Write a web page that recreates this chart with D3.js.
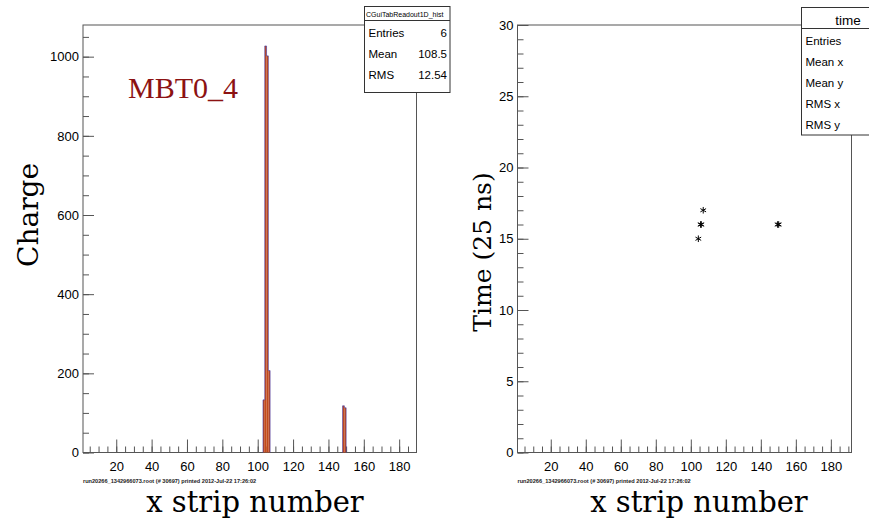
<!DOCTYPE html>
<html>
<head>
<meta charset="utf-8">
<script src="https://cdn.jsdelivr.net/npm/d3@7"></script>
<style>
  body { margin: 0; background: #fff; }
  svg { display: block; }
  .tick text { font-family: "Liberation Sans", Arial, sans-serif; font-size: 13px; fill: #000; }
  .tick line { stroke: #555; }
  .domain { display: none; }
</style>
</head>
<body>
<svg class="chart" width="869" height="519"></svg>
<script>
// histogram bins (low edge) and charge per bin
const binLow = [103, 104, 105, 106, 148, 149];
const charge = [133, 1027, 1002, 207, 118, 113];

// time vs strip points
const stripX = [104.3, 105.6, 106.0, 107.1, 149.6, 150.2];
const timeY = [15, 16, 16, 17, 16, 16];

// tick values
const xMajor = [20, 40, 60, 80, 100, 120, 140, 160, 180];
const chargeMajor = [0, 200, 400, 600, 800, 1000];
const timeMajor = [0, 5, 10, 15, 20, 25, 30];

const leftStats = [['Entries', '6'], ['Mean', '108.5'], ['RMS', '12.54']];
const rightStats = ['Entries', 'Mean x', 'Mean y', 'RMS x', 'RMS y'];
const footer = 'run20266_1342966073.root (# 30697) printed 2012-Jul-22 17:26:02';

const svg = d3.select('.chart');
const serif = '"DejaVu Serif", serif';
const sans = '"Liberation Sans", Arial, sans-serif';

//draws a ROOT style frame with inward ticks
function drawFrame(box, xDomain, yDomain, yMajor, yMinorStep, yTitle, titleX) {
    const x = d3.scaleLinear().domain(xDomain).range([box.left, box.right]);
    const y = d3.scaleLinear().domain(yDomain).range([box.bottom, box.top]);

    const xMinor = d3.range(5, xDomain[1], 5).filter(v => v > xDomain[0]);
    const yMinor = d3.range(0, yDomain[1] + 0.001, yMinorStep);

    //minor ticks
    svg.append('g')
        .attr('transform', `translate(0, ${box.bottom})`)
        .call(d3.axisBottom(x).tickValues(xMinor).tickSize(-6).tickFormat(''));
    svg.append('g')
        .attr('transform', `translate(${box.left}, 0)`)
        .call(d3.axisRight(y).tickValues(yMinor).tickSize(6).tickFormat(''));

    //major ticks with labels
    svg.append('g')
        .attr('transform', `translate(0, ${box.bottom})`)
        .call(d3.axisBottom(x).tickValues(xMajor).tickSize(-13).tickPadding(6).tickFormat(d3.format('d')))
        .selectAll('text').attr('dy', '0.95em');
    const ya = svg.append('g')
        .attr('transform', `translate(${box.left}, 0)`)
        .call(d3.axisRight(y).tickValues(yMajor).tickSize(11).tickFormat(d3.format('d')));
    ya.selectAll('.tick text')
        .attr('x', -4)
        .attr('text-anchor', 'end');

    svg.append('rect')
        .attr('x', box.left).attr('y', box.top)
        .attr('width', box.right - box.left).attr('height', box.bottom - box.top)
        .attr('fill', 'none').attr('stroke', '#555').attr('stroke-width', 1);

    svg.append('text')
        .attr('x', box.left).attr('y', box.bottom + 30)
        .attr('font-family', sans).attr('font-size', 5.6).attr('font-weight', 'bold')
        .attr('fill', '#222')
        .text(footer);

    svg.append('text')
        .attr('x', titleX).attr('y', 512)
        .attr('text-anchor', 'middle')
        .attr('font-family', serif).attr('font-size', 29)
        .text('x strip number');

    svg.append('text')
        .attr('transform', `translate(${yTitle.x}, ${yTitle.y}) rotate(-90)`)
        .attr('text-anchor', 'middle')
        .attr('font-family', serif).attr('font-size', yTitle.size)
        .text(yTitle.text);

    return { x, y };
}

function statsBox(b, title, titleSize, rows) {
    const g = svg.append('g');
    g.append('rect')
        .attr('x', b.x).attr('y', b.y).attr('width', b.w).attr('height', b.h)
        .attr('fill', '#fff').attr('stroke', '#333');
    g.append('line')
        .attr('x1', b.x).attr('x2', b.x + b.w)
        .attr('y1', b.y + b.head).attr('y2', b.y + b.head)
        .attr('stroke', '#333');
    g.append('text')
        .attr('x', b.titleX).attr('y', b.y + b.head - 4)
        .attr('text-anchor', b.titleAnchor)
        .attr('font-family', sans).attr('font-size', titleSize)
        .text(title);
    rows.forEach((r, i) => {
        const yy = b.y + b.head + b.row * (i + 1) - 5;
        g.append('text')
            .attr('x', b.x + 4).attr('y', yy)
            .attr('font-family', sans).attr('font-size', 11.5)
            .text(r[0]);
        if (r[1]) g.append('text')
            .attr('x', b.x + b.w - 3).attr('y', yy)
            .attr('text-anchor', 'end')
            .attr('font-family', sans).attr('font-size', 11.5)
            .text(r[1]);
    });
}

// ---- left: charge histogram
const L = drawFrame({ left: 83, right: 416.5, top: 25, bottom: 452.5 },
    [1.2, 189.8], [0, 1080], chargeMajor, 50,
    { x: 38, y: 215, size: 28, text: 'Charge' }, 255);

const bins = binLow.map((lo, i) => ({ lo, hi: lo + 1, v: charge[i] }));

svg.append('g')
    .selectAll('rect')
    .data(bins)
    .join('rect')
    .attr('x', d => L.x(d.lo))
    .attr('width', d => L.x(d.hi) - L.x(d.lo))
    .attr('y', d => L.y(d.v))
    .attr('height', d => L.y(0) - L.y(d.v))
    .attr('fill', '#c24a1c');

//outline as step line per contiguous group
const groups = [];
bins.forEach(b => {
    const last = groups[groups.length - 1];
    if (last && last[last.length - 1].hi === b.lo) last.push(b);
    else groups.push([b]);
});
const step = d3.line().x(p => L.x(p[0])).y(p => L.y(p[1])).curve(d3.curveStepAfter);
groups.forEach(gr => {
    const pts = [[gr[0].lo, 0]].concat(gr.map(b => [b.lo, b.v]));
    pts.push([gr[gr.length - 1].hi, 0]);
    svg.append('path')
        .attr('d', step(pts))
        .attr('fill', 'none')
        .attr('stroke', '#3a35a8')
        .attr('stroke-width', 0.6);
});

svg.append('text')
    .attr('x', 128).attr('y', 98)
    .attr('font-family', '"Liberation Serif", serif').attr('font-size', 30)
    .attr('fill', '#8c1212')
    .text('MBT0_4');

statsBox({ x: 364.5, y: 6.5, w: 85.5, h: 86, head: 14, row: 21, titleX: 366, titleAnchor: 'start' },
    'CGuiTabReadout1D_hist', 7, leftStats);

// ---- right: time vs strip
const R = drawFrame({ left: 517.5, right: 851.5, top: 25, bottom: 452.5 },
    [1.0, 191.8], [0, 30], timeMajor, 1,
    { x: 491, y: 252, size: 25, text: 'Time (25 ns)' }, 699);

const star = d3.symbol().type(d3.symbolAsterisk || d3.symbolCross).size(30);
svg.append('g')
    .selectAll('path')
    .data(stripX.map((v, i) => [v, timeY[i]]))
    .join('path')
    .attr('transform', d => `translate(${R.x(d[0])}, ${R.y(d[1])})`)
    .attr('d', star)
    .attr('fill', 'none')
    .attr('stroke', '#000')
    .attr('stroke-width', 1);

statsBox({ x: 801.5, y: 7.5, w: 80, h: 127.5, head: 21, row: 21, titleX: 848, titleAnchor: 'middle' },
    'time', 13.5, rightStats.map(s => [s]));
</script>
</body>
</html>
